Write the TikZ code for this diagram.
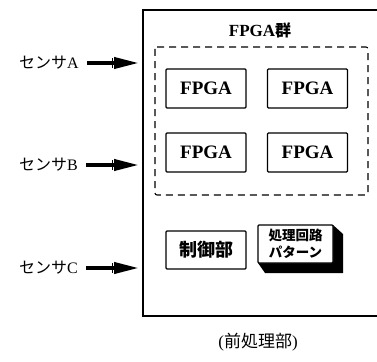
\documentclass[tikz,border=0pt]{standalone}
\usepackage{fontspec}
\setmainfont{Liberation Serif}
\newfontfamily\jp{Noto Sans CJK JP}
\usetikzlibrary{arrows.meta}
\begin{document}
\begin{tikzpicture}[x=1pt,y=-1pt,
  box/.style={draw,line width=1.2pt,rounded corners=1pt,inner sep=0pt},
  fpga/.style={box,minimum width=80pt,minimum height=39pt,font=\fontsize{19}{19}\selectfont\bfseries},
  sensor/.style={font=\fontsize{16}{16}\selectfont,anchor=west,inner sep=0pt},
  inarrow/.style={line width=4pt,-{Triangle[length=25pt,width=11pt]}}]
\useasboundingbox (0,0) rectangle (377,361);
% outer frame (right side runs off the picture)
\draw[line width=1.1pt] (380,10) -- (143,10) -- (143,316) -- (380,316);
\node[font=\fontsize{17}{17}\selectfont\bfseries] (title) at (260,30) {FPGA{\jp\fontsize{16}{16}\selectfont 群}};
% dashed group
\draw[line width=1.1pt,dash pattern=on 7pt off 5pt,rounded corners=2pt] (155,47) rectangle (368,195);
\node[fpga] (f1) at (206,88.5) {FPGA};
\node[fpga] (f2) at (307.5,88.5) {FPGA};
\node[fpga] (f3) at (206,152.5) {FPGA};
\node[fpga] (f4) at (307.5,152.5) {FPGA};
% control unit
\node[box,minimum width=80pt,minimum height=38pt,font=\jp\fontsize{18}{18}\selectfont\bfseries] (ctrl) at (206,250) {制御部};
% pattern block with 3D shadow
\fill[black] (333,225) -- (343,234) -- (343,273) -- (265,273) -- (258,263) -- (333,263) -- cycle;
\node[box,fill=white,minimum width=75pt,minimum height=38pt,align=center,font=\jp\fontsize{13.5}{17}\selectfont\bfseries] (pat) at (295.5,244) {処理回路\\パターン};
% sensors
\node[sensor] (sa) at (19,63) {{\jp センサ}A};
\node[sensor] (sb) at (19,165) {{\jp センサ}B};
\node[sensor] (sc) at (19,268) {{\jp センサ}C};
\coordinate (ea) at (139,63);
\coordinate (eb) at (139,165);
\coordinate (ec) at (139,268);
\draw[inarrow] ([xshift=8pt]sa.east) -- (ea);
\draw[inarrow] ([xshift=8pt]sb.east) -- (eb);
\draw[inarrow] ([xshift=8pt]sc.east) -- (ec);
\foreach \c in {ea,eb,ec} \draw[line width=1pt] ([xshift=-27pt,yshift=-5pt]\c) -- ([xshift=-27pt,yshift=5pt]\c);
% caption
\node[font=\fontsize{17}{17}\selectfont] (cap) at (258,342) {({\jp 前処理部})};
\end{tikzpicture}
\end{document}
